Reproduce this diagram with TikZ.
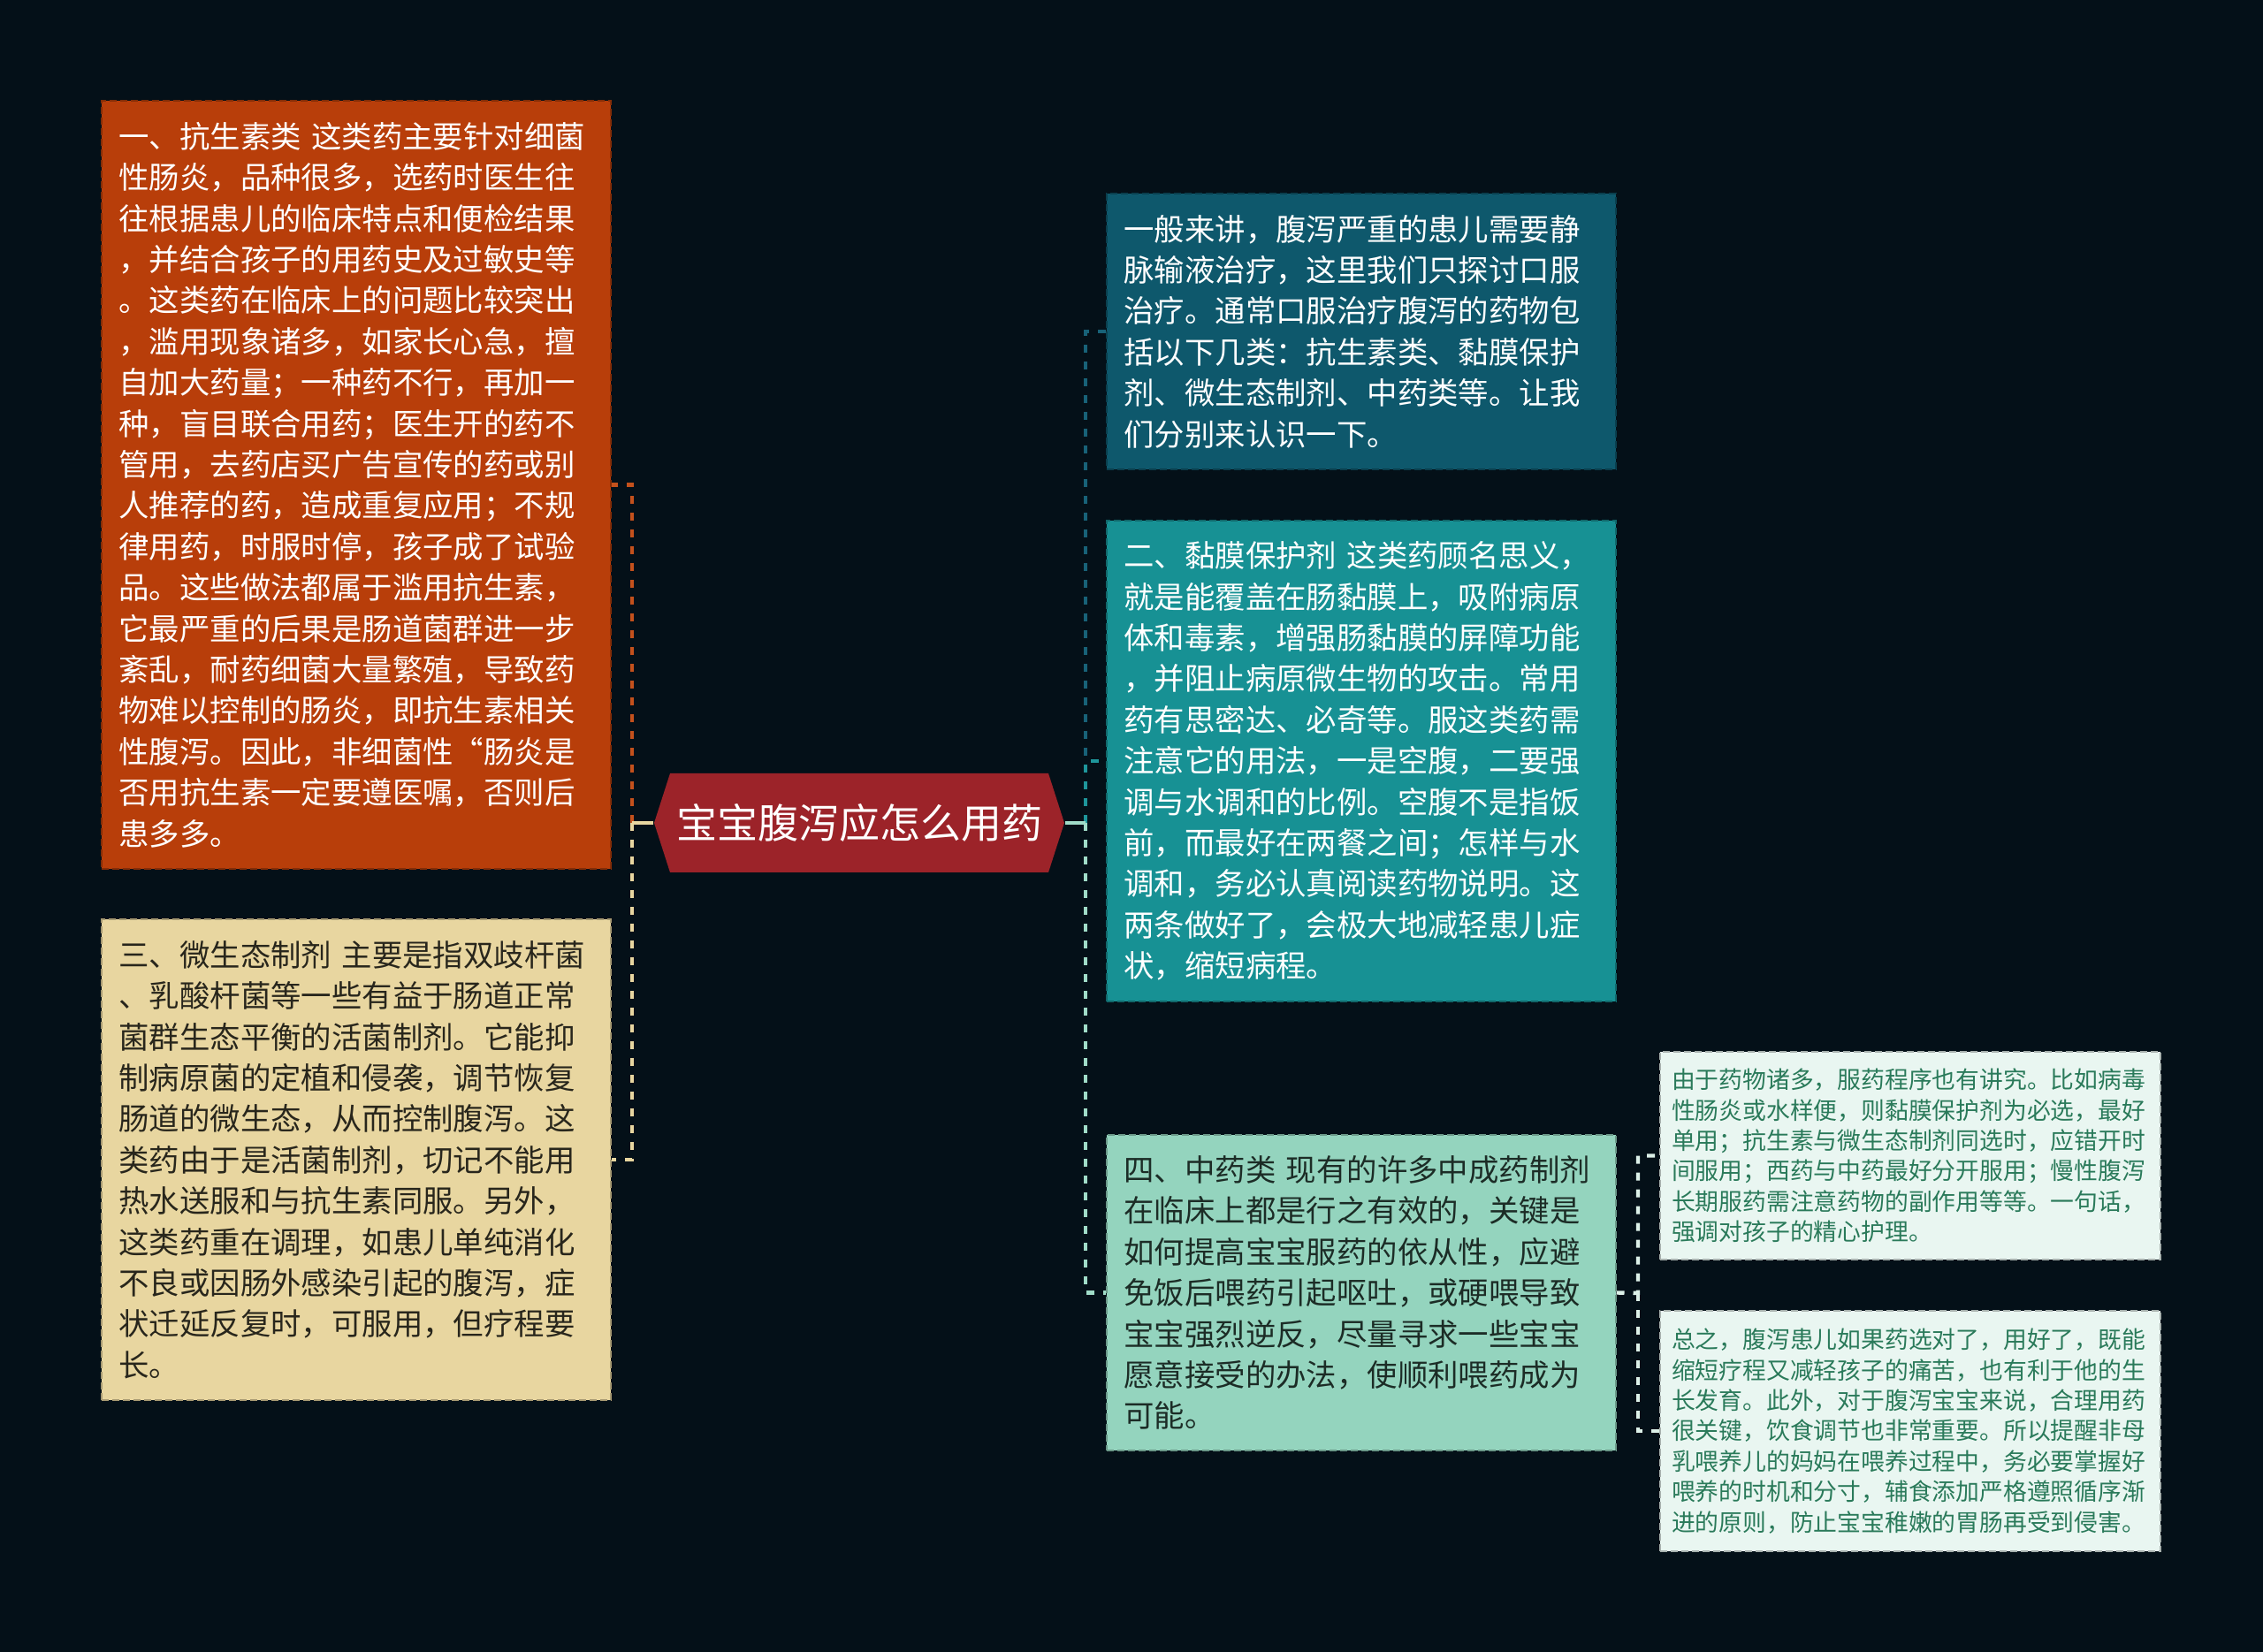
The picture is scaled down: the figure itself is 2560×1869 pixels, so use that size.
\documentclass[tikz,border=0pt]{standalone}
\usepackage{fontspec}
\setmainfont{Noto Sans CJK SC}

\definecolor{bgcol}{RGB}{4,16,24}
\definecolor{rootcol}{RGB}{156,35,41}
\definecolor{abxcol}{RGB}{184,62,10}
\definecolor{probiocol}{RGB}{232,214,160}
\definecolor{introcol}{RGB}{14,88,108}
\definecolor{mucosacol}{RGB}{23,145,148}
\definecolor{tcmcol}{RGB}{148,212,190}
\definecolor{notecol}{RGB}{233,246,241}
\definecolor{notetext}{RGB}{42,122,90}
\definecolor{darktext}{RGB}{40,38,28}
\definecolor{tcmtext}{RGB}{28,44,38}
\definecolor{abxline}{RGB}{196,81,28}
\definecolor{introline}{RGB}{24,98,120}
\definecolor{mucosaline}{RGB}{30,150,155}
\definecolor{tcmline}{RGB}{160,220,200}
\definecolor{noteline}{RGB}{220,240,232}

\tikzset{
	mainbox/.style={draw=#1!72!black, fill=#1, dash pattern=on 2pt off 1pt, line width=0.5pt,
		inner xsep=5pt, text width=134pt, align=left, font=\fontsize{8.6pt}{11.6pt}\selectfont},
	subbox/.style={draw=#1!72!black, fill=#1, dash pattern=on 2pt off 1pt, line width=0.5pt,
		inner xsep=3.25pt, text width=135pt, align=left, font=\fontsize{6.7pt}{8.6pt}\selectfont},
	link/.style={draw=#1, line width=1.1pt, dash pattern=on 2.25pt off 2.5pt},
	stub/.style={draw=#1, line width=1.1pt}
}

\begin{document}
\begin{tikzpicture}[x=0.25pt,y=-0.25pt]
		\tikzstyle{every node}+=[inner sep=0pt]
		\useasboundingbox (0,0) rectangle (2560,1869);
		\fill [bgcol] (0,0) rectangle (2560,1869);
		\fill [rootcol] (758,875) -- (1186,875) -- (1204,931) -- (1186,987) -- (758,987) -- (740,931) -- cycle;
		\node [text=white, minimum width=116pt, minimum height=28pt, font=\fontsize{11.5pt}{13pt}\selectfont] (root) at (972,931) {宝宝腹泻应怎么用药};
		\coordinate (lj) at (715,931);
		\coordinate (rj) at (1228,931);
		\coordinate (sj) at (1853,1463);
		\node [mainbox=abxcol, text=white, minimum height=217.25pt] (abx) at (402.5,548.5) {一、抗生素类 这类药主要针对细菌\\性肠炎，品种很多，选药时医生往\\往根据患儿的临床特点和便检结果\\，并结合孩子的用药史及过敏史等\\。这类药在临床上的问题比较突出\\，滥用现象诸多，如家长心急，擅\\自加大药量；一种药不行，再加一\\种，盲目联合用药；医生开的药不\\管用，去药店买广告宣传的药或别\\人推荐的药，造成重复应用；不规\\律用药，时服时停，孩子成了试验\\品。这些做法都属于滥用抗生素，\\它最严重的后果是肠道菌群进一步\\紊乱，耐药细菌大量繁殖，导致药\\物难以控制的肠炎，即抗生素相关\\性腹泻。因此，非细菌性“肠炎是\\否用抗生素一定要遵医嘱，否则后\\患多多。};
		\node [mainbox=probiocol, text=darktext, minimum height=136pt] (probio) at (402.5,1312) {三、微生态制剂 主要是指双歧杆菌\\、乳酸杆菌等一些有益于肠道正常\\菌群生态平衡的活菌制剂。它能抑\\制病原菌的定植和侵袭，调节恢复\\肠道的微生态，从而控制腹泻。这\\类药由于是活菌制剂，切记不能用\\热水送服和与抗生素同服。另外，\\这类药重在调理，如患儿单纯消化\\不良或因肠外感染引起的腹泻，症\\状迁延反复时，可服用，但疗程要\\长。};
		\node [mainbox=introcol, text=white, minimum height=78pt] (intro) at (1539.5,375) {一般来讲，腹泻严重的患儿需要静\\脉输液治疗，这里我们只探讨口服\\治疗。通常口服治疗腹泻的药物包\\括以下几类：抗生素类、黏膜保护\\剂、微生态制剂、中药类等。让我\\们分别来认识一下。};
		\node [mainbox=mucosacol, text=white, minimum height=136pt] (mucosa) at (1539.5,861) {二、黏膜保护剂 这类药顾名思义，\\就是能覆盖在肠黏膜上，吸附病原\\体和毒素，增强肠黏膜的屏障功能\\，并阻止病原微生物的攻击。常用\\药有思密达、必奇等。服这类药需\\注意它的用法，一是空腹，二要强\\调与水调和的比例。空腹不是指饭\\前，而最好在两餐之间；怎样与水\\调和，务必认真阅读药物说明。这\\两条做好了，会极大地减轻患儿症\\状，缩短病程。};
		\node [mainbox=tcmcol, text=tcmtext, minimum height=89.25pt] (tcm) at (1539.5,1462.5) {四、中药类 现有的许多中成药制剂\\在临床上都是行之有效的，关键是\\如何提高宝宝服药的依从性，应避\\免饭后喂药引起呕吐，或硬喂导致\\宝宝强烈逆反，尽量寻求一些宝宝\\愿意接受的办法，使顺利喂药成为\\可能。};
		\node [subbox=notecol, text=notetext, minimum height=58.75pt] (order) at (2161,1307.5) {由于药物诸多，服药程序也有讲究。比如病毒\\性肠炎或水样便，则黏膜保护剂为必选，最好\\单用；抗生素与微生态制剂同选时，应错开时\\间服用；西药与中药最好分开服用；慢性腹泻\\长期服药需注意药物的副作用等等。一句话，\\强调对孩子的精心护理。};
		\node [subbox=notecol, text=notetext, minimum height=68pt] (summary) at (2161,1619) {总之，腹泻患儿如果药选对了，用好了，既能\\缩短疗程又减轻孩子的痛苦，也有利于他的生\\长发育。此外，对于腹泻宝宝来说，合理用药\\很关键，饮食调节也非常重要。所以提醒非母\\乳喂养儿的妈妈在喂养过程中，务必要掌握好\\喂养的时机和分寸，辅食添加严格遵照循序渐\\进的原则，防止宝宝稚嫩的胃肠再受到侵害。};
		\draw [link=abxline] (lj) |- (abx.east);
		\draw [link=probiocol] (lj) |- (probio.east);
		\draw [stub=probiocol] (root.west) -- (lj);
		\draw [link=introline] (rj) |- (intro.west);
		\draw [link=mucosaline] (rj) |- (mucosa.west);
		\draw [link=tcmline] (rj) |- (tcm.west);
		\draw [stub=tcmline] (root.east) -- (rj);
		\draw [link=noteline] (tcm.east) -- (sj) |- (order.west);
		\draw [link=noteline] (sj) |- (summary.west);
	\end{tikzpicture}
\end{document}
